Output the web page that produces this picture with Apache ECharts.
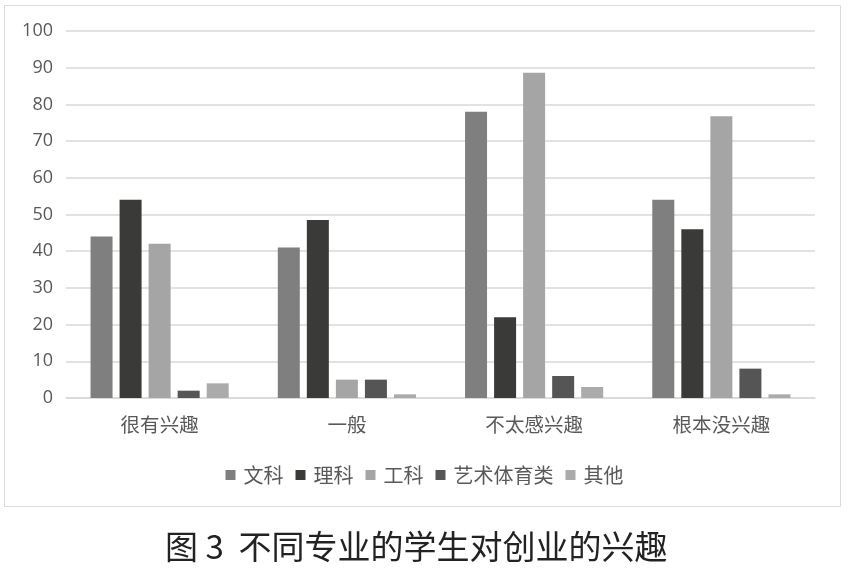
<!DOCTYPE html>
<html><head><meta charset="utf-8">
<script src="https://cdn.jsdelivr.net/npm/echarts@6/dist/echarts.min.js"></script>
<style>html,body{margin:0;padding:0;background:#fff}#c{width:849px;height:569px}</style>
</head><body><div id="c"></div>
<script>
const categories = ['很有兴趣','一般','不太感兴趣','根本没兴趣'];
const seriesNames = ['文科','理科','工科','艺术体育类','其他'];
const wenke = [44, 41, 78, 54];
const like = [54, 48.5, 22, 46];
const gongke = [42, 5, 88.6, 76.8];
const yishu = [2, 5, 6, 8];
const qita = [4, 1, 3, 1];
const yTicks = [0,10,20,30,40,50,60,70,80,90,100];
const colors = ['#7f7f7f','#3a3a38','#a5a5a5','#555555','#ababab'];
const values = [wenke, like, gongke, yishu, qita];
const font = '"Noto Sans CJK SC", "Noto Sans", sans-serif';
const chart = echarts.init(document.getElementById('c'));
chart.setOption({
  animation:false,
  color: colors,
  title:{text:'图 3  不同专业的学生对创业的兴趣', left:160, top:525,
    textStyle:{fontFamily:font, fontSize:33, fontWeight:'normal', color:'#222'}},
  graphic:[{type:'rect', shape:{x:4.5,y:5.5,width:836,height:501}, style:{fill:'none', stroke:'#d9d9d9', lineWidth:1}, z:-1}],
  legend:{top:460, left:'center', itemWidth:10, itemHeight:10, itemGap:12, icon:'rect',
    textStyle:{fontFamily:font, fontSize:20, color:'#595959', padding:[0,0,0,3]}, data:seriesNames},
  grid:{left:66, right:34, top:31, bottom:171},
  xAxis:{type:'category', data:categories,
    axisLine:{lineStyle:{color:'#d9d9d9', width:1.5}}, axisTick:{show:false},
    axisLabel:{fontFamily:font, fontSize:19.5, color:'#595959', margin:17}},
  yAxis:{type:'value', min:0, max:100, interval:10,
    axisLine:{show:false}, axisTick:{show:false},
    splitLine:{lineStyle:{color:'#d9d9d9', width:1.5}},
    axisLabel:{fontFamily:'"Open Sans", sans-serif', fontSize:18, color:'#595959', margin:13,
      formatter:v=>yTicks.includes(v)?String(v):''}},
  series: seriesNames.map((n,i)=>({name:n, type:'bar', data:values[i], barWidth:22, barGap:'32%'}))
});
</script></body></html>
